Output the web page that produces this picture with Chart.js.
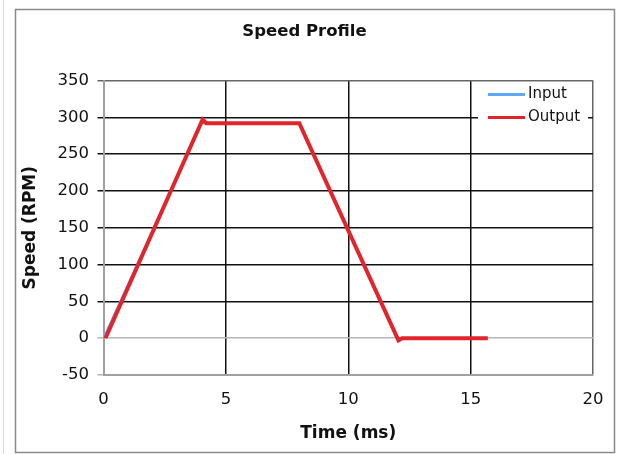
<!DOCTYPE html>
<html>
<head>
<meta charset="utf-8">
<script src="https://cdn.jsdelivr.net/npm/chart.js@4"></script>
<style>
  body { margin: 0; background: #fff; }
  #wrap { width: 624px; height: 454px; position: relative; }
</style>
</head>
<body>
<div id="wrap"><canvas id="myChart" width="624" height="454"></canvas></div>
<script>
// time (ms) and speed (RPM)
var inputTime = [0, 4, 8, 12, 15.7];
var inputSpeed = [0, 292, 292, 0, 0];
var outputTime = [0.08, 4.05, 4.2, 8, 12.05, 12.2, 15.7];
var outputSpeed = [0, 297, 292, 292, -3, 0, 0];
var xTicks = [0, 5, 10, 15, 20];
var yTicks = [-50, 0, 50, 100, 150, 200, 250, 300, 350];

function toPoints(xs, ys) {
    return xs.map(function(x, i) { return { x: x, y: ys[i] }; });
}

// outer frame round the whole chart
var framePlugin = {
    id: 'frame',
    beforeDraw: function(chart) {
        var ctx = chart.ctx;
        ctx.save();
        ctx.fillStyle = '#fff';
        ctx.fillRect(0, 0, chart.width, chart.height);
        ctx.strokeStyle = '#dddddd';
        ctx.lineWidth = 1;
        ctx.beginPath();
        ctx.moveTo(3.5, 0);
        ctx.lineTo(3.5, chart.height);
        ctx.stroke();
        ctx.strokeStyle = '#8a8a8a';
        ctx.lineWidth = 1.5;
        ctx.strokeRect(15.5, 9.5, 599, 443);
        ctx.restore();
    }
};

// legend drawn inside the plot, top right
var innerLegend = {
    id: 'innerLegend',
    afterDatasetsDraw: function(chart) {
        var ctx = chart.ctx;
        var area = chart.chartArea;
        var x0 = area.right - 115;
        var y0 = area.top + 5;
        ctx.save();
        ctx.fillStyle = '#fff';
        ctx.fillRect(x0, y0, 110, 43);
        ctx.font = '15px "DejaVu Sans"';
        ctx.textBaseline = 'middle';
        chart.data.datasets.forEach(function(ds, i) {
            var y = y0 + 9 + i * 23;
            ctx.strokeStyle = ds.borderColor;
            ctx.lineWidth = 3;
            ctx.beginPath();
            ctx.moveTo(x0 + 10, y);
            ctx.lineTo(x0 + 47, y);
            ctx.stroke();
            ctx.fillStyle = '#111';
            ctx.fillText(ds.label, x0 + 50, y);
        });
        ctx.restore();
    }
};

var ctx = document.getElementById('myChart').getContext('2d');
var myChart = new Chart(ctx, {
    type: 'scatter',
    data: {
        datasets: [{
            label: 'Input',
            data: toPoints(inputTime, inputSpeed),
            borderColor: '#5ea8f7',
            borderWidth: 2,
            showLine: true,
            pointRadius: 0,
            tension: 0,
            order: 2
        }, {
            label: 'Output',
            data: toPoints(outputTime, outputSpeed),
            borderColor: '#e2252d',
            borderWidth: 4,
            showLine: true,
            pointRadius: 0,
            tension: 0,
            order: 1
        }]
    },
    options: {
        responsive: false,
        animation: false,
        layout: { padding: { left: 16, right: 31, top: 0, bottom: 10 } },
        plugins: {
            legend: { display: false },
            tooltip: { enabled: false },
            title: {
                display: true,
                text: 'Speed Profile',
                color: '#111',
                font: { family: 'DejaVu Sans', size: 16.5, weight: 'bold' },
                padding: { top: 22, bottom: 38.7 }
            }
        },
        scales: {
            x: {
                type: 'linear',
                min: 0,
                max: 20,
                afterBuildTicks: function(scale) {
                    scale.ticks = xTicks.map(function(v) { return { value: v }; });
                },
                afterFit: function(scale) { scale.height = 69; },
                ticks: {
                    color: '#111',
                    padding: 15,
                    font: { family: 'DejaVu Sans', size: 16.5 }
                },
                grid: {
                    drawTicks: false,
                    lineWidth: 1.5,
                    color: function(c) {
                        if (c.tick && c.tick.value === 0) return '#a0a0a0';
                        if (c.tick && c.tick.value === 20) return '#666';
                        return '#111';
                    }
                },
                border: { color: '#a0a0a0', width: 2 },
                title: {
                    display: true,
                    text: 'Time (ms)',
                    color: '#111',
                    font: { family: 'DejaVu Sans', size: 17, weight: 'bold' },
                    padding: { top: 0, bottom: 0 }
                }
            },
            y: {
                type: 'linear',
                min: -50,
                max: 350,
                afterBuildTicks: function(scale) {
                    scale.ticks = yTicks.map(function(v) { return { value: v }; });
                },
                afterFit: function(scale) { scale.width = 87.5; },
                ticks: {
                    color: '#111',
                    padding: 8.5,
                    font: { family: 'DejaVu Sans', size: 16.5 }
                },
                grid: {
                    tickLength: 6,
                    lineWidth: 1.5,
                    color: function(c) {
                        if (c.tick && (c.tick.value === 0 || c.tick.value === -50)) return '#b5b5b5';
                        if (c.tick && c.tick.value === 350) return '#666';
                        return '#111';
                    }
                },
                border: { color: '#a0a0a0', width: 2 },
                title: {
                    display: true,
                    text: 'Speed (RPM)',
                    color: '#111',
                    font: { family: 'DejaVu Sans', size: 17, weight: 'bold' },
                    padding: { top: 4, bottom: 0 }
                }
            }
        }
    },
    plugins: [framePlugin, innerLegend]
});
</script>
</body>
</html>
